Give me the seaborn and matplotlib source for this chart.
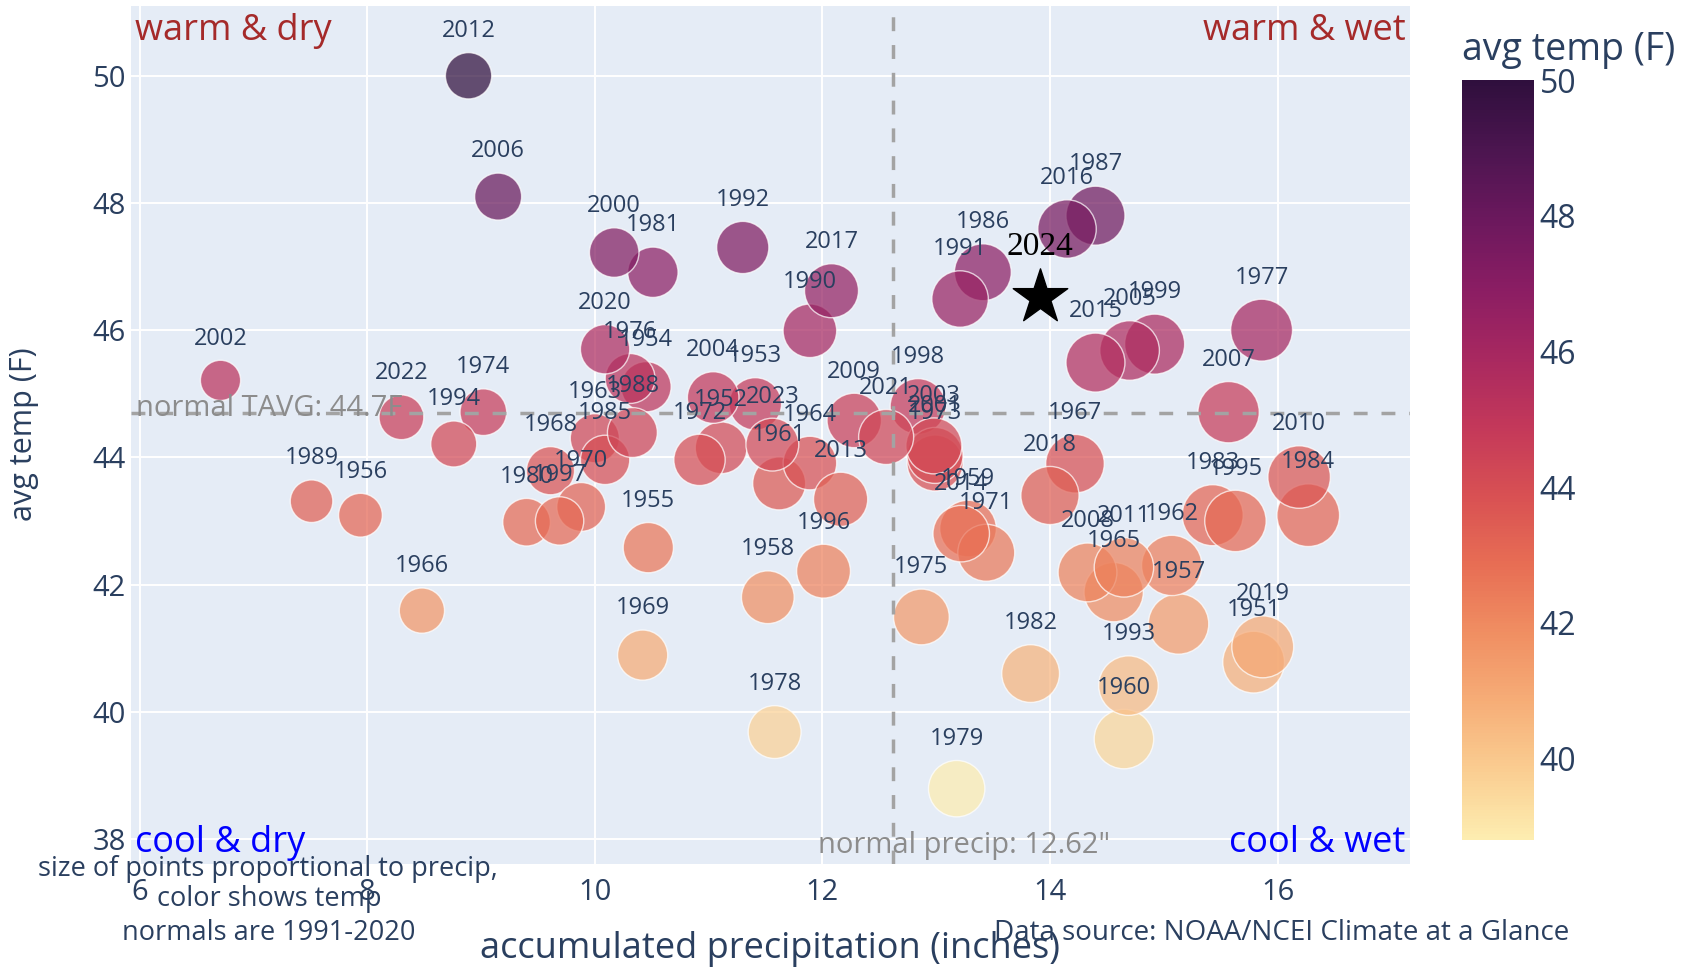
import seaborn as sns
import matplotlib.pyplot as plt
import pandas as pd
import numpy as np
from matplotlib.colors import LinearSegmentedColormap, Normalize
import matplotlib.cm as cm

# yearly values
years = [1951, 1952, 1953, 1954, 1955, 1956, 1957, 1958, 1959, 1960,
         1961, 1962, 1963, 1964, 1965, 1966, 1967, 1968, 1969, 1970,
         1971, 1972, 1973, 1974, 1975, 1976, 1977, 1978, 1979, 1980,
         1981, 1982, 1983, 1984, 1985, 1986, 1987, 1988, 1989, 1990,
         1991, 1992, 1993, 1994, 1995, 1996, 1997, 1998, 1999, 2000,
         2001, 2002, 2003, 2004, 2005, 2006, 2007, 2008, 2009, 2010,
         2011, 2012, 2013, 2014, 2015, 2016, 2017, 2018, 2019, 2020,
         2021, 2022, 2023]
precip = [15.79, 11.11, 11.41, 10.45, 10.47, 7.94, 15.13, 11.52, 13.28, 14.65,
          11.62, 15.07, 10.00, 11.89, 14.56, 8.48, 14.22, 9.61, 10.42, 9.88,
          13.44, 10.92, 12.99, 9.02, 12.87, 10.31, 15.86, 11.58, 13.18, 9.40,
          10.51, 13.83, 15.43, 16.27, 10.09, 13.41, 14.40, 10.33, 7.51, 11.89,
          13.21, 11.30, 14.69, 8.76, 15.63, 12.01, 9.69, 12.84, 14.92, 10.17,
          12.99, 6.71, 12.98, 11.04, 14.70, 9.15, 15.57, 14.33, 12.28, 16.19,
          14.65, 8.89, 12.16, 13.22, 14.40, 14.15, 12.08, 14.00, 15.87, 10.09,
          12.56, 8.30, 11.56]
temp = [40.78, 44.15, 44.84, 45.11, 42.58, 43.09, 41.38, 41.80, 42.88, 39.57,
        43.59, 42.30, 44.30, 43.91, 41.88, 41.59, 43.90, 43.79, 40.89, 43.22,
        42.50, 43.96, 43.91, 44.71, 41.49, 45.24, 46.00, 39.68, 38.79, 42.98,
        46.91, 40.60, 43.09, 43.09, 43.96, 46.91, 47.80, 44.39, 43.31, 45.99,
        46.49, 47.30, 40.41, 44.21, 43.00, 42.21, 43.00, 44.80, 45.78, 47.22,
        44.03, 45.21, 44.18, 44.94, 45.68, 48.10, 44.71, 42.19, 44.58, 43.69,
        42.27, 50.00, 43.34, 42.80, 45.49, 47.59, 46.62, 43.40, 41.02, 45.70,
        44.32, 44.63, 44.20]

current_year = "2024"
current_precip = 13.91
current_temp = 46.52

normal_precip = 12.62
normal_temp = 44.7

df = pd.DataFrame({"year": years, "precip": precip, "temp": temp})

# cmocean "matter" colour scale
matter = ["#fdedb0", "#facd91", "#f6ad77", "#f08e62", "#e76d54", "#d85053",
          "#c3385a", "#a82860", "#8a1d63", "#6b185d", "#4c1550", "#2f0f3d"]
cmap = LinearSegmentedColormap.from_list("matter", matter)
vmin, vmax = min(temp), max(temp)

sns.set_theme(style="darkgrid", rc={"axes.facecolor": "#E5ECF6", "grid.color": "white"})
plt.rcParams["font.family"] = ["Open Sans", "DejaVu Sans"]
txt = "#2a3f5f"

fig = plt.figure(figsize=(16.82, 9.69), dpi=100)
ax = fig.add_axes([0.078, 0.108, 0.760, 0.886])
cax = fig.add_axes([0.869, 0.133, 0.043, 0.784])

k = 125.0  # marker area per inch of precip
sns.scatterplot(data=df, x="precip", y="temp", hue="temp", size="precip",
                palette=cmap, hue_norm=(vmin, vmax), sizes=(0, 18 * k), size_norm=(0, 18),
                alpha=0.72, edgecolor="white", linewidth=1, legend=False, ax=ax, zorder=3)

for yr, p, t in zip(years, precip, temp):
    r = np.sqrt(k * p) / 2
    ax.annotate(str(yr), (p, t), xytext=(0, r + 7), textcoords="offset points",
                ha="center", va="bottom", fontsize=17, color=txt, zorder=5)

ax.scatter([current_precip], [current_temp], marker="*", s=1700, color="black", zorder=6)
ax.annotate(current_year, (current_precip, current_temp), xytext=(0, 25), textcoords="offset points",
            ha="center", va="bottom", fontsize=24, family="Liberation Serif", color="black", zorder=6)

ax.axhline(normal_temp, color="#a3a3a3", ls=(0, (4, 4)), lw=2.5, zorder=4)
ax.axvline(normal_precip, color="#a3a3a3", ls=(0, (4, 4)), lw=2.5, zorder=4)
ax.annotate(f"normal TAVG: {normal_temp}F", (0.004, normal_temp), xycoords=("axes fraction", "data"),
            xytext=(0, 3), textcoords="offset points", ha="left", va="center",
            fontsize=21, color="#8c8c8c", zorder=4)
ax.annotate(f'normal precip: {normal_precip}"', (normal_precip, 0.022), xycoords=("data", "axes fraction"),
            xytext=(-54, 0), textcoords="offset points", ha="left", va="center",
            fontsize=21, color="#8c8c8c", zorder=4)

ax.text(0.003, 0.971, "warm & dry", transform=ax.transAxes, ha="left", va="center", fontsize=26, color="#a52a2a")
ax.text(0.997, 0.971, "warm & wet", transform=ax.transAxes, ha="right", va="center", fontsize=26, color="#a52a2a")
ax.text(0.003, 0.025, "cool & dry", transform=ax.transAxes, ha="left", va="center", fontsize=26, color="blue")
ax.text(0.997, 0.025, "cool & wet", transform=ax.transAxes, ha="right", va="center", fontsize=26, color="blue")

ax.set_xlim(5.925, 17.16)
ax.set_ylim(37.6, 51.1)
ax.set_xticks([6, 8, 10, 12, 14, 16])
ax.set_yticks([38, 40, 42, 44, 46, 48, 50])
ax.tick_params(axis="both", length=0, labelsize=21, labelcolor=txt)
ax.tick_params(axis="x", pad=10)
ax.tick_params(axis="y", pad=4)
ax.grid(True, color="white", lw=1.4)
ax.set_axisbelow(True)
ax.set_xlabel("")
ax.set_ylabel("")
for s in ax.spines.values():
    s.set_visible(False)

fig.text(0.014, 0.552, "avg temp (F)", rotation=90, ha="center", va="center", fontsize=22, color=txt)
fig.text(0.458, 0.021, "accumulated precipitation (inches)", ha="center", va="center", fontsize=26, color=txt)
fig.text(0.159, 0.103, "size of points proportional to precip,", ha="center", va="center", fontsize=19.5, color=txt)
fig.text(0.160, 0.072, "color shows temp", ha="center", va="center", fontsize=19.5, color=txt)
fig.text(0.160, 0.037, "normals are 1991-2020", ha="center", va="center", fontsize=19.5, color=txt)
fig.text(0.762, 0.037, "Data source: NOAA/NCEI Climate at a Glance", ha="center", va="center", fontsize=20, color=txt)

sm = cm.ScalarMappable(norm=Normalize(vmin, vmax), cmap=cmap)
cb = fig.colorbar(sm, cax=cax)
cb.outline.set_visible(False)
cb.set_ticks([40, 42, 44, 46, 48, 50])
cax.tick_params(length=0, labelsize=23, labelcolor=txt, pad=4)
fig.text(0.869, 0.948, "avg temp (F)", ha="left", va="center", fontsize=27, color=txt)

fig.savefig("out.png", dpi=100, facecolor="white")
